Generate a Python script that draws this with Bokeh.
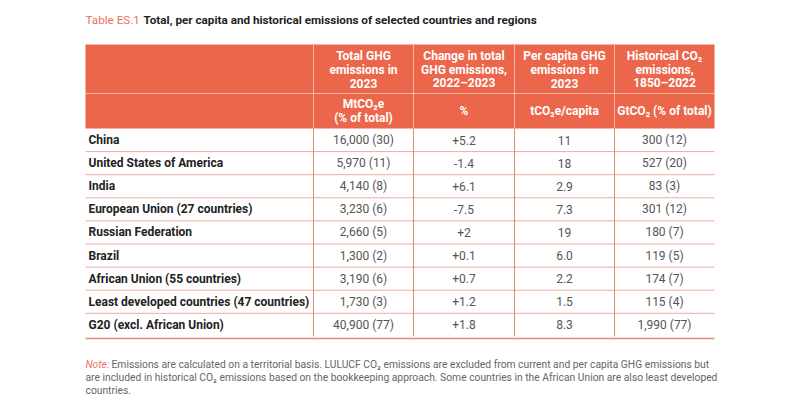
from bokeh.plotting import figure
from bokeh.models import Range1d
from bokeh.core.properties import value
from bokeh.embed import file_html
from bokeh.resources import INLINE

# ---------------- data ----------------
title_prefix = "Table ES.1"
title_text = "Total, per capita and historical emissions of selected countries and regions"

header_top = [
    "Total GHG\nemissions in\n2023",
    "Change in total\nGHG emissions,\n2022–2023",
    "Per capita GHG\nemissions in\n2023",
    "Historical CO₂\nemissions,\n1850–2022",
]
header_units = ["MtCO₂e\n(% of total)", "%", "tCO₂e/capita", "GtCO₂ (% of total)"]

regions = [
    "China",
    "United States of America",
    "India",
    "European Union (27 countries)",
    "Russian Federation",
    "Brazil",
    "African Union (55 countries)",
    "Least developed countries (47 countries)",
    "G20 (excl. African Union)",
]
total_ghg = ["16,000 (30)", "5,970 (11)", "4,140 (8)", "3,230 (6)", "2,660 (5)",
             "1,300 (2)", "3,190 (6)", "1,730 (3)", "40,900 (77)"]
change_pct = ["+5.2", "-1.4", "+6.1", "-7.5", "+2", "+0.1", "+0.7", "+1.2", "+1.8"]
per_capita = ["11", "18", "2.9", "7.3", "19", "6.0", "2.2", "1.5", "8.3"]
historical = ["300 (12)", "527 (20)", "83 (3)", "301 (12)", "180 (7)",
              "119 (5)", "174 (7)", "115 (4)", "1,990 (77)"]

note_label = "Note:"
note_lines = [
    "Emissions are calculated on a territorial basis. LULUCF CO₂ emissions are excluded from current and per capita GHG emissions but",
    "are included in historical CO₂ emissions based on the bookkeeping approach. Some countries in the African Union are also least developed",
    "countries.",
]

# ---------------- layout / style ----------------
FONT = value("Roboto")
ORANGE = "#EC664B"
TITLE_ORANGE = "#E8735F"
ROW_LINE = "#EAAE9F"
COL_LINE = "#E48875"
HEAD_LINE = "#F6B7A6"

col_edges = [85, 313, 413, 514, 614, 714]
head_top, head_mid, head_bot = 44, 93, 128
row_h = 23.1
n = len(regions)
body_bot = head_bot + row_h * n

p = figure(width=784, height=396, output_backend="svg", toolbar_location=None,
           x_range=Range1d(0, 784), y_range=Range1d(396, 0),
           x_axis_location=None, y_axis_location=None, min_border=0)
p.grid.visible = False
p.outline_line_color = None
p.background_fill_color = "white"
p.border_fill_color = "white"

# header background
p.quad(left=[col_edges[0]], right=[col_edges[-1]], top=[head_top], bottom=[head_bot],
       fill_color=ORANGE, line_color=None)
# header divider lines
p.segment(x0=col_edges[1:-1], y0=[head_top] * 4, x1=col_edges[1:-1], y1=[head_bot] * 4,
          line_color=HEAD_LINE, line_width=1)
p.segment(x0=[col_edges[0]], y0=[head_mid], x1=[col_edges[-1]], y1=[head_mid],
          line_color=HEAD_LINE, line_width=1)

# body lines
ys = [head_bot + row_h * (i + 1) for i in range(n - 1)]
p.segment(x0=[col_edges[0]] * len(ys), y0=ys, x1=[col_edges[-1]] * len(ys), y1=ys,
          line_color=ROW_LINE, line_width=1)
p.segment(x0=[col_edges[0]], y0=[body_bot + 2], x1=[col_edges[-1]], y1=[body_bot + 2],
          line_color=COL_LINE, line_width=1.5)
p.segment(x0=col_edges[1:-1], y0=[head_bot] * 4, x1=col_edges[1:-1], y1=[body_bot] * 4,
          line_color=COL_LINE, line_width=1)

centers = [(col_edges[i] + col_edges[i + 1]) / 2 for i in range(len(col_edges) - 1)]

# header texts
hx, hy, ht = [], [], []
for j, lab in enumerate(header_top):
    lines = lab.split("\n")
    mid = (head_top + head_mid) / 2 + 0.5
    for k, ln in enumerate(lines):
        hx.append(centers[j + 1]); ht.append(ln)
        hy.append(mid + (k - (len(lines) - 1) / 2) * 13.8)
for j, lab in enumerate(header_units):
    lines = lab.split("\n")
    mid = (head_mid + head_bot) / 2
    for k, ln in enumerate(lines):
        hx.append(centers[j + 1]); ht.append(ln)
        hy.append(mid + (k - (len(lines) - 1) / 2) * 13.8)
p.text(x=hx, y=hy, text=ht, text_font=FONT, text_font_size="12px", text_font_style="bold",
       text_color="white", text_align="center", text_baseline="middle")

# row labels
row_y = [head_bot + row_h * (i + 0.5) for i in range(n)]
p.text(x=[88] * n, y=row_y, text=regions, text_font=FONT, text_font_size="12px",
       text_font_style="bold", text_color="#222222", text_align="left", text_baseline="middle")

# values
vx, vy, vt = [], [], []
for j, col in enumerate([total_ghg, change_pct, per_capita, historical]):
    for i, v in enumerate(col):
        vx.append(centers[j + 1]); vy.append(row_y[i]); vt.append(v)
p.text(x=vx, y=vy, text=vt, text_font=FONT, text_font_size="12px",
       text_color="#555555", text_align="center", text_baseline="middle")

# title
p.text(x=[85], y=[19], text=[title_prefix], text_font=FONT, text_font_size="11.7px",
       text_color=TITLE_ORANGE, text_align="left", text_baseline="middle")
p.text(x=[143], y=[19], text=[title_text], text_font=FONT, text_font_size="11.7px",
       text_font_style="bold", text_color="#222222", text_align="left", text_baseline="middle")

# note
note_y = [364 + 13 * k for k in range(len(note_lines))]
p.text(x=[85], y=[note_y[0]], text=[note_label], text_font=FONT, text_font_size="10.3px",
       text_font_style="italic", text_color=TITLE_ORANGE, text_align="left", text_baseline="middle")
p.text(x=[111] + [85] * (len(note_lines) - 1), y=note_y, text=note_lines, text_font=FONT,
       text_font_size="10.3px", text_color="#666666", text_align="left", text_baseline="middle")

open("out.html", "w").write(file_html(p, INLINE))
